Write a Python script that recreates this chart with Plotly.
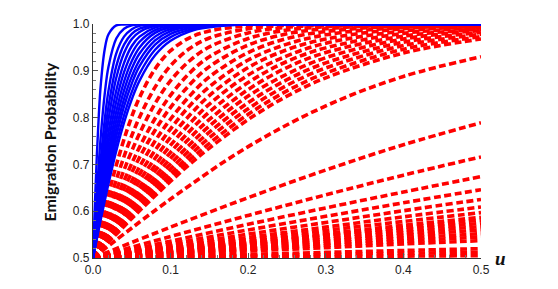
import plotly.graph_objects as go

# ---------------- data ----------------
X_TICKS = [0.0, 0.1, 0.2, 0.3, 0.4, 0.5]
Y_TICKS = [0.5, 0.6, 0.7, 0.8, 0.9, 1.0]

# blue solid curves (steep family)
U_BLUE = [0, 0.0025, 0.005, 0.0075, 0.01, 0.015, 0.02, 0.03, 0.04, 0.05, 0.06,
          0.08, 0.1, 0.13, 0.16, 0.2, 0.3, 0.5]
BLUE_CURVES = [
    [0.5, 0.617, 0.721, 0.806, 0.870, 0.945, 0.978, 0.997, 0.999, 1.0, 1.0, 1.0, 1.0, 1.0, 1.0, 1.0, 1.0, 1.0],
    [0.5, 0.571, 0.640, 0.703, 0.760, 0.849, 0.909, 0.969, 0.990, 0.997, 0.999, 1.0, 1.0, 1.0, 1.0, 1.0, 1.0, 1.0],
    [0.5, 0.556, 0.611, 0.663, 0.711, 0.794, 0.858, 0.937, 0.973, 0.989, 0.996, 0.999, 1.0, 1.0, 1.0, 1.0, 1.0, 1.0],
    [0.5, 0.548, 0.595, 0.641, 0.684, 0.760, 0.824, 0.910, 0.956, 0.979, 0.990, 0.998, 1.0, 1.0, 1.0, 1.0, 1.0, 1.0],
    [0.5, 0.542, 0.584, 0.625, 0.664, 0.735, 0.796, 0.885, 0.938, 0.968, 0.983, 0.996, 0.999, 1.0, 1.0, 1.0, 1.0, 1.0],
    [0.5, 0.537, 0.574, 0.611, 0.646, 0.711, 0.769, 0.858, 0.917, 0.953, 0.973, 0.992, 0.998, 1.0, 1.0, 1.0, 1.0, 1.0],
    [0.5, 0.534, 0.567, 0.600, 0.632, 0.692, 0.747, 0.835, 0.897, 0.937, 0.962, 0.987, 0.996, 0.999, 1.0, 1.0, 1.0, 1.0],
    [0.5, 0.531, 0.561, 0.591, 0.620, 0.676, 0.727, 0.813, 0.877, 0.921, 0.950, 0.981, 0.993, 0.998, 1.0, 1.0, 1.0, 1.0],
    [0.5, 0.528, 0.556, 0.584, 0.611, 0.663, 0.711, 0.794, 0.858, 0.905, 0.937, 0.973, 0.989, 0.997, 0.999, 1.0, 1.0, 1.0],
    [0.5, 0.526, 0.552, 0.577, 0.602, 0.651, 0.696, 0.776, 0.840, 0.888, 0.923, 0.965, 0.985, 0.996, 0.999, 1.0, 1.0, 1.0],
    [0.5, 0.524, 0.548, 0.572, 0.595, 0.641, 0.684, 0.760, 0.824, 0.873, 0.910, 0.956, 0.979, 0.993, 0.998, 0.999, 1.0, 1.0],
    [0.5, 0.522, 0.544, 0.566, 0.588, 0.630, 0.670, 0.744, 0.805, 0.855, 0.894, 0.945, 0.972, 0.990, 0.997, 0.999, 1.0, 1.0],
    [0.5, 0.521, 0.541, 0.562, 0.582, 0.621, 0.659, 0.729, 0.789, 0.839, 0.879, 0.933, 0.964, 0.987, 0.995, 0.999, 1.0, 1.0],
]

# red dashed curves, upper cluster
U_RED_TOP = [0, 0.01, 0.02, 0.03, 0.045, 0.06, 0.08, 0.1, 0.125, 0.15, 0.2, 0.25, 0.3, 0.4, 0.5]
RED_TOP_CURVES = [
    [0.5, 0.570, 0.636, 0.698, 0.779, 0.843, 0.904, 0.943, 0.971, 0.985, 0.996, 0.999, 1.0, 1.0, 1.0],
    [0.5, 0.558, 0.614, 0.667, 0.740, 0.801, 0.865, 0.911, 0.948, 0.970, 0.990, 0.997, 0.999, 1.0, 1.0],
    [0.5, 0.549, 0.598, 0.644, 0.709, 0.766, 0.830, 0.879, 0.922, 0.951, 0.981, 0.993, 0.997, 1.0, 1.0],
    [0.5, 0.543, 0.585, 0.626, 0.684, 0.737, 0.798, 0.848, 0.896, 0.930, 0.969, 0.987, 0.994, 0.999, 1.0],
    [0.5, 0.538, 0.576, 0.613, 0.666, 0.715, 0.773, 0.822, 0.871, 0.909, 0.955, 0.979, 0.990, 0.998, 1.0],
    [0.5, 0.534, 0.568, 0.601, 0.649, 0.695, 0.750, 0.797, 0.847, 0.887, 0.939, 0.969, 0.984, 0.996, 0.999],
    [0.5, 0.531, 0.562, 0.592, 0.636, 0.679, 0.730, 0.776, 0.826, 0.866, 0.923, 0.957, 0.977, 0.993, 0.998],
    [0.5, 0.528, 0.557, 0.585, 0.626, 0.665, 0.713, 0.758, 0.806, 0.847, 0.907, 0.945, 0.968, 0.990, 0.997],
    [0.5, 0.526, 0.552, 0.578, 0.616, 0.652, 0.698, 0.741, 0.788, 0.829, 0.891, 0.932, 0.959, 0.985, 0.995],
    [0.5, 0.524, 0.549, 0.573, 0.608, 0.642, 0.686, 0.726, 0.772, 0.812, 0.875, 0.920, 0.949, 0.980, 0.992],
    [0.5, 0.523, 0.545, 0.568, 0.601, 0.633, 0.674, 0.713, 0.757, 0.796, 0.860, 0.907, 0.939, 0.974, 0.989],
    [0.5, 0.521, 0.542, 0.563, 0.595, 0.625, 0.664, 0.701, 0.743, 0.782, 0.846, 0.893, 0.928, 0.968, 0.986],
    [0.5, 0.520, 0.540, 0.560, 0.589, 0.618, 0.655, 0.690, 0.731, 0.769, 0.832, 0.881, 0.917, 0.961, 0.982],
    [0.5, 0.519, 0.538, 0.556, 0.584, 0.611, 0.647, 0.680, 0.720, 0.757, 0.819, 0.869, 0.906, 0.954, 0.978],
    [0.5, 0.518, 0.536, 0.553, 0.580, 0.606, 0.639, 0.672, 0.710, 0.745, 0.807, 0.857, 0.895, 0.946, 0.973],
    [0.5, 0.517, 0.534, 0.551, 0.576, 0.601, 0.633, 0.664, 0.701, 0.735, 0.796, 0.846, 0.885, 0.938, 0.968],
]

# red dashed curves, lower fan
U_RED_LOW = [0, 0.1, 0.2, 0.3, 0.4, 0.5]
RED_LOW_CURVES = [
    [0.5, 0.626, 0.738, 0.825, 0.888, 0.930],
    [0.5, 0.566, 0.629, 0.688, 0.742, 0.789],
    [0.5, 0.546, 0.591, 0.635, 0.677, 0.716],
    [0.5, 0.536, 0.572, 0.607, 0.641, 0.674],
    [0.5, 0.530, 0.560, 0.589, 0.618, 0.646],
    [0.5, 0.525, 0.551, 0.576, 0.601, 0.625],
    [0.5, 0.522, 0.544, 0.566, 0.588, 0.609],
    [0.5, 0.520, 0.539, 0.559, 0.578, 0.597],
    [0.5, 0.517, 0.535, 0.552, 0.570, 0.587],
    [0.5, 0.516, 0.532, 0.549, 0.565, 0.581],
    [0.5, 0.515, 0.530, 0.545, 0.560, 0.574],
    [0.5, 0.513, 0.527, 0.540, 0.554, 0.567],
    [0.5, 0.512, 0.524, 0.536, 0.548, 0.560],
    [0.5, 0.510, 0.521, 0.531, 0.542, 0.552],
    [0.5, 0.509, 0.518, 0.527, 0.536, 0.545],
    [0.5, 0.507, 0.515, 0.522, 0.530, 0.537],
    [0.5, 0.504, 0.508, 0.512, 0.516, 0.520],
    [0.5, 0.5025, 0.505, 0.5075, 0.510, 0.5125],
    [0.5, 0.501, 0.502, 0.503, 0.504, 0.505],
]

# ---------------- figure ----------------
fig = go.Figure()

RED_LINE = dict(color="#FF0000", width=3.6, dash="7px,3.5px", shape="spline")
BLUE_LINE = dict(color="#0000FF", width=2.4, shape="spline")

for ys in RED_LOW_CURVES:
    fig.add_trace(go.Scatter(x=U_RED_LOW, y=ys, mode="lines", line=RED_LINE,
                             hoverinfo="skip", showlegend=False))
for ys in RED_TOP_CURVES:
    fig.add_trace(go.Scatter(x=U_RED_TOP, y=ys, mode="lines", line=RED_LINE,
                             hoverinfo="skip", showlegend=False))
for ys in BLUE_CURVES:
    fig.add_trace(go.Scatter(x=U_BLUE, y=ys, mode="lines", line=BLUE_LINE,
                             hoverinfo="skip", showlegend=False))

axis_common = dict(
    showgrid=False, zeroline=False, showline=True, linecolor="#333333", linewidth=1.4,
    ticks="inside", ticklen=5, tickwidth=1, tickcolor="#555555",
    minor=dict(ticks="inside", ticklen=3, tickcolor="#777777", dtick=0.02),
    tickfont=dict(family="Liberation Sans, Arial, sans-serif", size=12, color="#222222"),
    tickformat=".1f", mirror=False,
)

fig.update_xaxes(range=[0, 0.5], tickvals=X_TICKS, **axis_common)
fig.update_yaxes(range=[0.5, 1.0], tickvals=Y_TICKS, **axis_common)

# the page body adds an 8px offset, margins compensate for it
fig.update_layout(
    width=558, height=289,
    margin=dict(l=85, r=85, t=9, b=39),
    paper_bgcolor="white", plot_bgcolor="white",
    showlegend=False,
    annotations=[
        dict(text="<b>Emigration Probability</b>", xref="paper", yref="paper",
             x=-0.113, y=0.494, xanchor="center", yanchor="middle", textangle=-90,
             showarrow=False, font=dict(family="Lato, Open Sans, sans-serif", size=16, color="#111111")),
        dict(text="<b><i>u</i></b>", xref="paper", yref="paper",
             x=1.049, y=0.0, xanchor="center", yanchor="middle",
             showarrow=False, font=dict(family="Liberation Serif, Times New Roman, serif", size=19, color="#111111")),
    ],
)

fig.write_html("out.html")
